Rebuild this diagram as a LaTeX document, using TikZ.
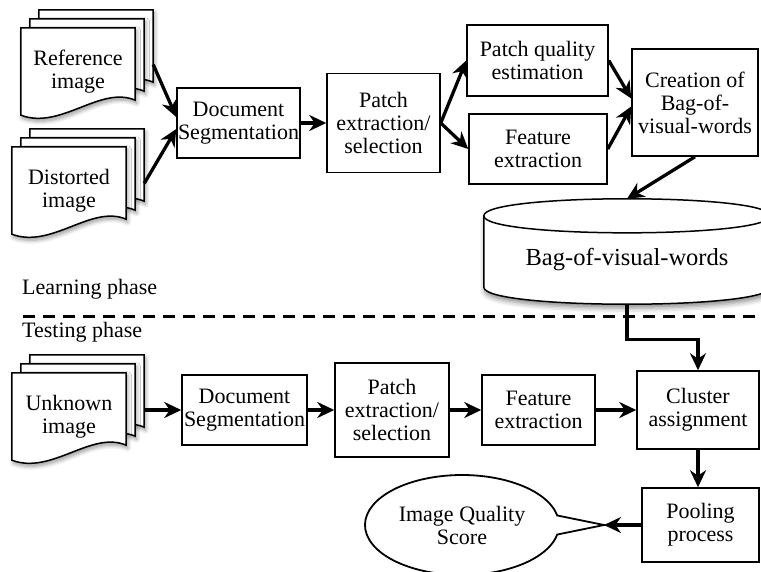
\documentclass[tikz,border=0pt]{standalone}
\usepackage{fontspec}
\setmainfont{Liberation Serif}
\usetikzlibrary{arrows.meta, positioning, calc, shapes.callouts, backgrounds, shadows.blur}

% a stack of three image sheets with a wavy lower edge
\newcommand{\imgstack}[3]{%
  \node[sheet] (#1) at (#2) {#3};
  \begin{scope}[on background layer]
    \foreach \k in {2,1,0} {
      \pgfmathsetmacro{\off}{9*\k}
      \draw[sheetline] ($(#1.north west)+(\off,-\off)$) -- ($(#1.north east)+(\off,-\off)$)
        -- ($(#1.south east)+(\off,-\off-15)$)
        .. controls +(-35,-15) and +(40,15) .. ($(#1.south west)+(\off,-\off)$) -- cycle;
    }
  \end{scope}
  \coordinate (#1-out) at ($(#1.east)+(18,-7)$);
}

\begin{document}
\begin{tikzpicture}[x=1pt, y=-1pt, font=\fontsize{22pt}{23pt}\selectfont,
  box/.style={draw, line width=1.5pt, align=center, inner sep=1pt},
  sheet/.style={align=center, inner sep=0pt, minimum width=114pt, minimum height=87pt},
  sheetline/.style={draw, line width=1.5pt, fill=white,
    blur shadow={shadow xshift=1.5pt, shadow yshift=-3pt, shadow blur radius=4pt,
                 shadow blur steps=8, shadow opacity=40}},
  dbbody/.style={inner sep=0pt, minimum width=286pt, minimum height=88pt,
    font=\fontsize{24.5pt}{26pt}\selectfont},
  arr/.style={-{Stealth[length=17pt, width=16pt, inset=5.5pt]}, line width=3.3pt},
  phase/.style={anchor=west, inner sep=0pt}]
  \useasboundingbox (0,0) rectangle (761,571);
  \clip (0,0) rectangle (761,571);

  % learning phase
  \imgstack{ref}{78,71.5}{Reference\\image}
  \imgstack{dist}{69,190.5}{Distorted\\image}
  \node[box, minimum width=123pt, minimum height=70pt] (seg) at (238.5,123) {Document\\Segmentation};
  \node[box, minimum width=113pt, minimum height=99pt] (patch) at (383.5,123) {Patch\\extraction/\\selection};
  \node[box, minimum width=141pt, minimum height=71pt] (quality) at (537.5,60.5) {Patch quality\\estimation};
  \node[box, minimum width=138pt, minimum height=70pt] (feat) at (538,149) {Feature\\extraction};
  \node[box, minimum width=126pt, minimum height=107pt] (bow) at (695,102.5) {Creation of\\Bag-of-\\visual-words};

  % codebook cylinder, body between the centres of its two ends
  \node[dbbody] (db) at (627,260) {Bag-of-visual-words};
  \coordinate (db-top) at ($(db.north)+(0,-17)$);
  \begin{scope}[on background layer]
    \draw[line width=1.5pt, fill=white,
      blur shadow={shadow xshift=1pt, shadow yshift=-4pt, shadow blur radius=5pt, shadow opacity=45}]
      (db.north west) -- ($(db.south west)+(0,-17)$)
      .. controls +(0,22.7) and +(0,22.7) .. ($(db.south east)+(0,-17)$)
      -- (db.north east) .. controls +(0,-22.7) and +(0,-22.7) .. (db.north west) -- cycle;
    \draw[line width=1.5pt] (db.north west) .. controls +(0,22.7) and +(0,22.7) .. (db.north east);
  \end{scope}

  \node[phase] (learn) at (22,289) {Learning phase};
  \draw[line width=3pt, dash pattern=on 12pt off 8pt] (23,316) -- (761,316);
  \node[phase] (test) at (22,332) {Testing phase};

  % testing phase
  \imgstack{unk}{69,416.5}{Unknown\\image}
  \node[box, minimum width=125pt, minimum height=70pt] (seg2) at (244.5,410) {Document\\Segmentation};
  \node[box, minimum width=114pt, minimum height=94pt] (patch2) at (392,410) {Patch\\extraction/\\selection};
  \node[box, minimum width=113pt, minimum height=70pt] (feat2) at (538.5,410) {Feature\\extraction};
  \node[box, minimum width=122pt, minimum height=78pt] (cluster) at (698,410) {Cluster\\assignment};
  \node[box, minimum width=117pt, minimum height=74pt] (pool) at (700.5,525) {Pooling\\process};
  \coordinate (tip) at (604,525);
  \node[draw, line width=1.8pt, ellipse callout, callout absolute pointer={(tip)},
    callout pointer arc=22, minimum width=194pt, minimum height=100pt,
    align=center, inner sep=0pt] (score) at (462,525) {Image Quality\\Score};

  \draw[arr] (ref-out) -- ($(seg.west)+(0,-6)$);
  \draw[arr] (dist-out) -- ($(seg.west)+(0,6)$);
  \draw[arr] (seg) -- (patch);
  \draw[arr] (patch.east) -- (quality.west);
  \draw[arr] (patch.east) -- (feat.west);
  \draw[arr] (quality.east) -- ($(bow.west)+(0,-4)$);
  \draw[arr] (feat.east) -- ($(bow.west)+(0,4)$);
  \draw[arr] (bow.south) -- (db-top);
  \draw[arr] (db.south) -- ++(0,35) -| (cluster.north);

  \draw[arr] (unk-out |- seg2.west) -- (seg2.west);
  \draw[arr] (seg2) -- (patch2);
  \draw[arr] (patch2) -- (feat2);
  \draw[arr] (feat2) -- (cluster);
  \draw[arr] (cluster.south) -- (cluster.south |- pool.north);
  \draw[arr] (pool.west) -- (tip);
\end{tikzpicture}
\end{document}
